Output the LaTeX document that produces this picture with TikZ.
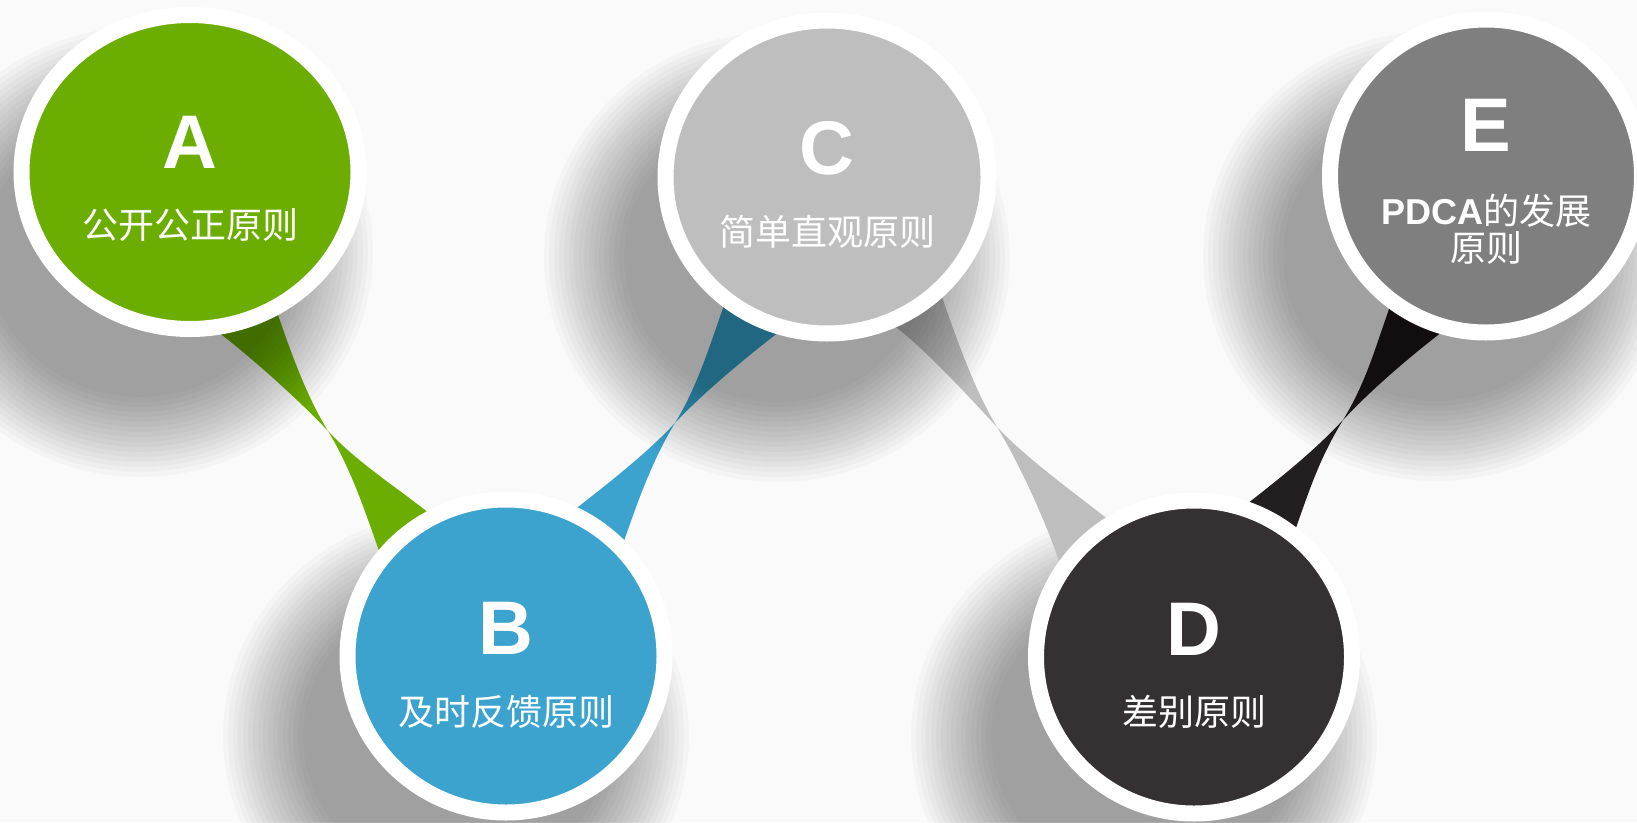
\documentclass[tikz,border=0pt]{standalone}
\usepackage{fontspec}
\setmainfont{Liberation Sans}
\newfontfamily\cjk{Noto Sans CJK SC}
\usetikzlibrary{shapes.geometric,calc}
\definecolor{bgc}{HTML}{FAFAFA}
\definecolor{cA}{HTML}{6BAD00}
\definecolor{cB}{HTML}{3BA3CE}
\definecolor{cC}{HTML}{BEBEBE}
\definecolor{cD}{HTML}{353031}
\definecolor{cE}{HTML}{7F7F7F}
\definecolor{cDE}{HTML}{231F20}
\pgfdeclarelayer{back}
\pgfdeclarelayer{conn}
\pgfdeclarelayer{shad}
\pgfsetlayers{back,conn,shad,main}
\tikzset{
  disc/.style={ellipse, draw=white, line width=16pt, inner sep=0pt, outer sep=0pt},
  lettr/.style={text=white, font=\fontsize{76}{76}\selectfont\bfseries, inner sep=0pt},
  lbl/.style={text=white, font=\fontsize{36}{37}\selectfont\cjk, inner sep=0pt, align=center},
  shadowc/.style={fill=black, fill opacity=0.022}
}
% soft shadow: stacked translucent ellipses
\newcommand\softshadow[1]{%
  \foreach \k [evaluate=\k as \rx using 153+5*\k, evaluate=\k as \ry using 145+5*\k] in {0,...,16}{%
    \fill[shadowc] ($(#1)+(-50,80)$) ellipse[x radius=\rx pt, y radius=\ry pt];}}
% #1 colour, #2 sign, #3 steep top exit, #4 shallow top exit, #5 pinch, #6 steep bottom exit, #7 shallow bottom exit
\newcommand\twist[7]{%
  \fill[#1] ($(#3)+({-(#2)*14},-40)$) -- (#3)
    .. controls ($(#3)+({(#2)*14},40)$) and ($(#5)+({-(#2)*22},-36)$) .. (#5)
    .. controls ($(#5)+({(#2)*22},36)$) and ($(#6)+({-(#2)*14},-40)$) .. (#6)
    -- ($(#6)+({(#2)*14},40)$) -- ($(#7)+({(#2)*32},25)$) -- (#7)
    .. controls ($(#7)+({-(#2)*32},-25)$) and ($(#5)+({(#2)*28},30)$) .. (#5)
    .. controls ($(#5)+({-(#2)*28},-30)$) and ($(#4)+({(#2)*32},25)$) .. (#4)
    -- ($(#4)+({-(#2)*32},-25)$) -- cycle;}
\begin{document}
\begin{tikzpicture}[x=1pt,y=-1pt]
\useasboundingbox (0,0) rectangle (1637,822);
% circles
\node[disc, fill=cA, minimum width=337pt, minimum height=314pt] (A) at (190,172) {};
\node[disc, fill=cB, minimum width=317pt, minimum height=313pt] (B) at (506,656) {};
\node[disc, fill=cC, minimum width=323pt, minimum height=313pt] (C) at (827,177) {};
\node[disc, fill=cD, minimum width=316pt, minimum height=313pt] (D) at (1194,657) {};
\node[disc, fill=cE, minimum width=312pt, minimum height=313pt] (E) at (1486,176) {};
% texts
\node[lettr] (A-l) at ($(A)+(0,-30)$) {A};
\node[lbl]   (A-t) at ($(A)+(0,53)$) {公开公正原则};
\node[lettr] (B-l) at ($(B)+(0,-28)$) {B};
\node[lbl]   (B-t) at ($(B)+(0,56)$) {及时反馈原则};
\node[lettr] (C-l) at ($(C)+(0,-29)$) {C};
\node[lbl]   (C-t) at ($(C)+(0,55)$) {简单直观原则};
\node[lettr] (D-l) at ($(D)+(0,-28)$) {D};
\node[lbl]   (D-t) at ($(D)+(0,55)$) {差别原则};
\node[lettr] (E-l) at ($(E)+(0,-51)$) {E};
\node[lbl]   (E-t) at ($(E)+(0,53)$) {{\normalfont\bfseries PDCA}的发展\\原则};
% background and lower shadows
\begin{pgfonlayer}{back}
  \fill[bgc] (0,0) rectangle (1637,822);
  \softshadow{B}
  \softshadow{D}
\end{pgfonlayer}
% connectors
\begin{pgfonlayer}{conn}
  \coordinate (ab-st) at ($(A)+(88,143)$);
  \coordinate (ab-sh) at ($(A)+(32,163)$);
  \coordinate (ab-p)  at ($(A)+(138,259)$);
  \coordinate (ab-bs) at ($(B)+(-128,-108)$);
  \coordinate (ab-bh) at ($(B)+(-81,-146)$);
  \twist{cA}{1}{ab-st}{ab-sh}{ab-p}{ab-bs}{ab-bh}
  \coordinate (bc-st) at ($(C)+(-104,131)$);
  \coordinate (bc-sh) at ($(C)+(-52,158)$);
  \coordinate (bc-p)  at ($(C)+(-152,246)$);
  \coordinate (bc-bs) at ($(B)+(119,-118)$);
  \coordinate (bc-bh) at ($(B)+(72,-149)$);
  \twist{cB}{-1}{bc-st}{bc-sh}{bc-p}{bc-bs}{bc-bh}
  \coordinate (cd-st) at ($(C)+(116,123)$);
  \coordinate (cd-sh) at ($(C)+(70,151)$);
  \coordinate (cd-p)  at ($(C)+(170,250)$);
  \coordinate (cd-bs) at ($(D)+(-136,-99)$);
  \coordinate (cd-bh) at ($(D)+(-89,-140)$);
  \twist{cC}{1}{cd-st}{cd-sh}{cd-p}{cd-bs}{cd-bh}
  \coordinate (de-st) at ($(E)+(-98,136)$);
  \coordinate (de-sh) at ($(E)+(-48,159)$);
  \coordinate (de-p)  at ($(E)+(-143,244)$);
  \coordinate (de-bs) at ($(D)+(103,-132)$);
  \coordinate (de-bh) at ($(D)+(58,-157)$);
  \twist{cDE}{-1}{de-st}{de-sh}{de-p}{de-bs}{de-bh}
\end{pgfonlayer}
% upper shadows
\begin{pgfonlayer}{shad}
  \softshadow{A}
  \softshadow{C}
  \softshadow{E}
\end{pgfonlayer}
\end{tikzpicture}
\end{document}
